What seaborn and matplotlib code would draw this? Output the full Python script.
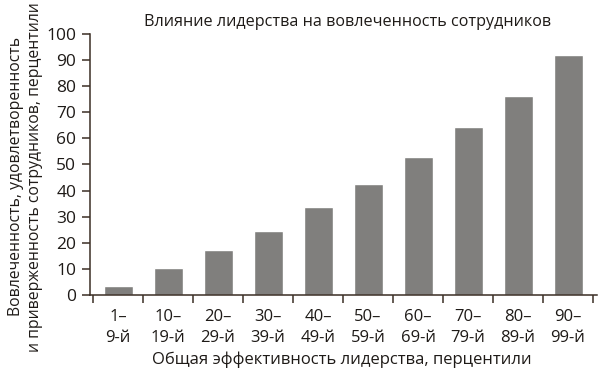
import numpy as np
import pandas as pd
import matplotlib
matplotlib.use("Agg")
import matplotlib.pyplot as plt
import seaborn as sns

sns.set_style("white")
plt.rcParams["font.family"] = ["Open Sans", "DejaVu Sans"]

# data
categories = ["1–\n9-й", "10–\n19-й", "20–\n29-й", "30–\n39-й", "40–\n49-й",
              "50–\n59-й", "60–\n69-й", "70–\n79-й", "80–\n89-й", "90–\n99-й"]
values = [3.6, 10.2, 17.2, 24.6, 33.6, 42.6, 53.0, 64.4, 76.3, 92.1]
y_ticks = [0, 10, 20, 30, 40, 50, 60, 70, 80, 90, 100]

title = "Влияние лидерства на вовлеченность сотрудников"
x_label = "Общая эффективность лидерства, перцентили"
y_label = "Вовлеченность, удовлетворенность\nи приверженность сотрудников, перцентили"

axis_col = "#3b2e25"
bar_col = "#807f7d"
text_col = "#1e1a17"

df = pd.DataFrame({"cat": categories, "val": values})

fig = plt.figure(figsize=(6.01, 3.76), dpi=100)
ax = fig.add_axes([0.1498, 0.2154, 0.8436, 0.6942])

sns.barplot(data=df, x="cat", y="val", color=bar_col, saturation=1,
            width=0.58, ax=ax)

ax.set_xlim(-0.56, 9.58)
ax.set_ylim(0, 100)
ax.set_yticks(y_ticks)

# tick marks between categories, labels at centres
ax.set_xticks(np.arange(len(categories)))
ax.set_xticklabels(categories, fontsize=12, color=text_col, linespacing=1.45)
ax.set_xticks(np.arange(len(categories) + 1) - 0.5, minor=True)
ax.tick_params(axis="x", which="major", length=0, pad=10)
ax.tick_params(axis="x", which="minor", length=6, width=1.1, color=axis_col,
               direction="out", bottom=True)
ax.tick_params(axis="y", length=6, width=1.1, color=axis_col, direction="out",
               labelsize=12.5, labelcolor=text_col, left=True, pad=4)

for s in ["top", "right"]:
    ax.spines[s].set_visible(False)
for s in ["left", "bottom"]:
    ax.spines[s].set_color(axis_col)
    ax.spines[s].set_linewidth(1.1)

ax.set_xlabel("")
ax.set_ylabel("")

fig.text(0.579, 0.941, title, ha="center", va="center", fontsize=11.6,
         color=text_col)
fig.text(0.569, 0.043, x_label, ha="center", va="center", fontsize=12,
         color=text_col)
fig.text(0.042, 0.53, y_label, ha="center", va="center", rotation=90,
         fontsize=11.3, color=text_col, linespacing=1.25)

fig.savefig("out.png", dpi=100)
